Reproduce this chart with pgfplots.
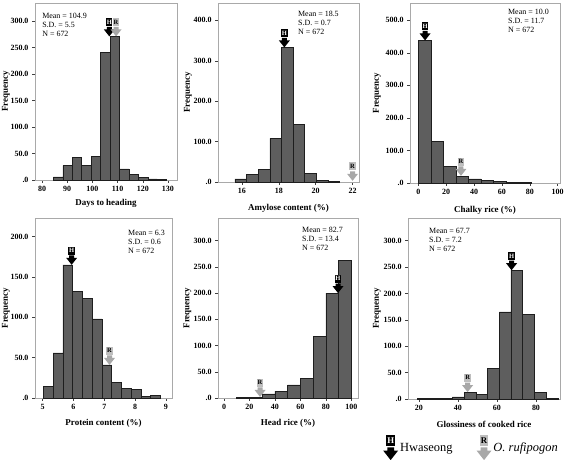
\documentclass[border=0pt]{standalone}
\usepackage{fontspec}
\setmainfont{Liberation Serif}
\usepackage{pgfplots}
\pgfplotsset{compat=1.18}
\definecolor{framegray}{HTML}{A9A9A9}
\definecolor{barfill}{HTML}{5E5E5E}
\definecolor{baredge}{HTML}{1E1E1E}
\definecolor{arrgray}{HTML}{A8A8A8}
\definecolor{boxgray}{HTML}{BEBEBE}

\pgfdeclareplotmark{harr}{%
  \pgfsetfillcolor{black}%
  \pgfpathmoveto{\pgfpoint{0bp}{0bp}}%
  \pgfpathlineto{\pgfpoint{-5.5bp}{7bp}}%
  \pgfpathlineto{\pgfpoint{-2.5bp}{7bp}}%
  \pgfpathlineto{\pgfpoint{-2.5bp}{9.5bp}}%
  \pgfpathlineto{\pgfpoint{2.5bp}{9.5bp}}%
  \pgfpathlineto{\pgfpoint{2.5bp}{7bp}}%
  \pgfpathlineto{\pgfpoint{5.5bp}{7bp}}%
  \pgfpathclose
  \pgfusepath{fill}%
  \pgfpathrectangle{\pgfpoint{-3.2bp}{10.3bp}}{\pgfpoint{6.4bp}{8bp}}%
  \pgfusepath{fill}%
  \pgftext[at=\pgfpoint{0bp}{14.3bp}]{\color{white}\fontsize{6.5}{6.5}\selectfont\bfseries H}%
}
\pgfdeclareplotmark{rarr}{%
  \pgfsetfillcolor{arrgray}%
  \pgfpathmoveto{\pgfpoint{0bp}{0bp}}%
  \pgfpathlineto{\pgfpoint{-5.5bp}{7bp}}%
  \pgfpathlineto{\pgfpoint{-2.5bp}{7bp}}%
  \pgfpathlineto{\pgfpoint{-2.5bp}{9.5bp}}%
  \pgfpathlineto{\pgfpoint{2.5bp}{9.5bp}}%
  \pgfpathlineto{\pgfpoint{2.5bp}{7bp}}%
  \pgfpathlineto{\pgfpoint{5.5bp}{7bp}}%
  \pgfpathclose
  \pgfusepath{fill}%
  \pgfsetfillcolor{boxgray}%
  \pgfpathrectangle{\pgfpoint{-3.2bp}{10.3bp}}{\pgfpoint{6.4bp}{8bp}}%
  \pgfusepath{fill}%
  \pgftext[at=\pgfpoint{0bp}{14.3bp}]{\color{black}\fontsize{6.5}{6.5}\selectfont\bfseries R}%
}

\tikzset{stat/.style={anchor=north west, align=left, inner sep=0pt, font=\fontsize{8}{9.2}\selectfont}}
\pgfplotsset{
  hist/.style={
    scale only axis, clip=false, anchor=south west,
    axis line style={framegray, line width=0.7bp},
    tick align=outside, xtick pos=bottom, ytick pos=left,
    tick style={black!75, line width=0.5bp},
    major tick length=3bp,
    tick label style={font=\fontsize{8}{8}\selectfont\bfseries},
    /pgf/number format/assume math mode=true,
    label style={font=\fontsize{9}{9}\selectfont\bfseries},
    ylabel={Frequency}, ymin=0,
    xlabel style={at={(axis description cs:0.5,0)}, anchor=center},
  },
  bars/.style={ybar interval, fill=barfill, draw=baredge, line width=0.5bp},
  hmk/.style={only marks, mark=harr},
  rmk/.style={only marks, mark=rarr},
}

\begin{document}
\begin{tikzpicture}[x=1bp,y=1bp]
\path[use as bounding box] (0,0) rectangle (567,460);

% Panel 1: Days to heading
\begin{axis}[hist, at={(35bp,280bp)}, width=142bp, height=177bp,
  xmin=77.2, xmax=133.6, ymax=334,
  xtick={80,90,...,130},
  ytick={0,50,...,300}, yticklabels={.0,50.0,100.0,150.0,200.0,250.0,300.0},
  xlabel={Days to heading},
  xlabel style={yshift=-23bp},
  ylabel style={at={(axis description cs:-0.176,0.5)}, anchor=south, inner sep=0pt}]
\addplot[bars] coordinates {(84.5,6) (88.25,27) (92,43) (95.75,27) (99.5,45) (103.25,241) (107,271) (110.75,21) (114.5,10) (118.25,5) (122,2) (125.75,1) (129.5,0)};
\addplot[hmk] coordinates {(106.7,271)};
\addplot[rmk] coordinates {(109.4,271)};
\node[stat] at (rel axis cs:0.05,0.944) {Mean = 104.9\\S.D. = 5.5\\N = 672};
\end{axis}

% Panel 2: Amylose content
\begin{axis}[hist, at={(218bp,278bp)}, width=141bp, height=179bp,
  xmin=14.7, xmax=22.35, ymax=443,
  xtick={16,18,20,22},
  ytick={0,100,...,400}, yticklabels={.0,100.0,200.0,300.0,400.0},
  xlabel={Amylose content (\%)},
  xlabel style={yshift=-26bp},
  ylabel style={at={(axis description cs:-0.184,0.5)}, anchor=south, inner sep=0pt}]
\addplot[bars] coordinates {(15.62,8) (16.25,18) (16.88,31) (17.51,108) (18.14,333) (18.77,142) (19.40,22) (20.03,4) (20.66,1) (21.29,0)};
\addplot[hmk] coordinates {(18.3,333)};
\addplot[rmk] coordinates {(22.0,3)};
\node[stat] at (rel axis cs:0.567,0.955) {Mean = 18.5\\S.D. = 0.7\\N = 672};
\end{axis}

% Panel 3: Chalky rice
\begin{axis}[hist, at={(410bp,277bp)}, width=150bp, height=180bp,
  xmin=-6, xmax=101.7, ymax=553,
  xtick={0,20,...,100},
  ytick={0,100,...,500}, yticklabels={.0,100.0,200.0,300.0,400.0,500.0},
  xlabel={Chalky rice (\%)},
  xlabel style={yshift=-27bp},
  ylabel style={at={(axis description cs:-0.193,0.5)}, anchor=south, inner sep=0pt}]
\addplot[bars] coordinates {(0,438) (9,127) (18,51) (27,20) (36,13) (45,8) (54,5) (63,1) (72,2) (81,0)};
\addplot[hmk] coordinates {(4.8,438)};
\addplot[rmk] coordinates {(30.6,22)};
\node[stat] at (rel axis cs:0.653,0.967) {Mean = 10.0\\S.D. = 11.7\\N = 672};
\end{axis}

% Panel 4: Protein content
\begin{axis}[hist, at={(35bp,62bp)}, width=137bp, height=180bp,
  xmin=4.75, xmax=9.2, ymax=223,
  xtick={5,6,7,8,9},
  ytick={0,50,...,200}, yticklabels={.0,50.0,100.0,150.0,200.0},
  xlabel={Protein content (\%)},
  xlabel style={yshift=-25bp},
  ylabel style={at={(axis description cs:-0.182,0.5)}, anchor=south, inner sep=0pt}]
\addplot[bars] coordinates {(5.02,14) (5.337,56) (5.654,165) (5.971,132) (6.288,123) (6.605,98) (6.922,41) (7.239,19) (7.556,12) (7.873,11) (8.19,2) (8.507,3) (8.824,0)};
\addplot[hmk] coordinates {(5.94,165)};
\addplot[rmk] coordinates {(7.17,41)};
\node[stat] at (rel axis cs:0.679,0.933) {Mean = 6.3\\S.D. = 0.6\\N = 672};
\end{axis}

% Panel 5: Head rice
\begin{axis}[hist, at={(218bp,62bp)}, width=140bp, height=180bp,
  xmin=-4.7, xmax=105.2, ymax=343,
  xtick={0,20,...,100},
  ytick={0,50,...,300}, yticklabels={.0,50.0,100.0,150.0,200.0,250.0,300.0},
  xlabel={Head rice (\%)},
  xlabel style={yshift=-25bp},
  ylabel style={at={(axis description cs:-0.19,0.5)}, anchor=south, inner sep=0pt}]
\addplot[bars] coordinates {(10,1) (20,1) (30,8) (40,13) (50,25) (60,37) (70,117) (80,200) (90,262) (100,0)};
\addplot[hmk] coordinates {(89.5,200)};
\addplot[rmk] coordinates {(28.3,2)};
\node[stat] at (rel axis cs:0.6,0.95) {Mean = 82.7\\S.D. = 13.4\\N = 672};
\end{axis}

% Panel 6: Glossiness of cooked rice
\begin{axis}[hist, at={(408bp,61bp)}, width=152bp, height=181bp,
  xmin=14.5, xmax=92.3, ymax=343,
  xtick={20,40,60,80},
  ytick={0,50,...,300}, yticklabels={.0,50.0,100.0,150.0,200.0,250.0,300.0},
  xlabel={Glossiness of cooked rice},
  xlabel style={yshift=-25bp},
  ylabel style={at={(axis description cs:-0.178,0.5)}, anchor=south, inner sep=0pt},
  legend columns=2,
  legend style={at={(1.0,-0.2)}, anchor=north east, draw=none, fill=none,
    font=\fontsize{12.5}{13}\selectfont, inner sep=0pt,
    /tikz/every even column/.append style={column sep=22bp}},
  legend cell align=left]
\addplot[bars, forget plot] coordinates {(19.2,1) (25.2,1) (31.2,1) (37.2,4) (43.2,13) (49.2,9) (55.2,58) (61.2,165) (67.2,244) (73.2,160) (79.2,13) (85.2,1) (91.2,0)};
\addplot[hmk, legend image code/.code={\pgftransformshift{\pgfpoint{7bp}{-12bp}}\pgftransformscale{1.35}\pgfuseplotmark{harr}}] coordinates {(67.5,244)};
\addlegendentry{Hwaseong}
\addplot[rmk, legend image code/.code={\pgftransformshift{\pgfpoint{7bp}{-12bp}}\pgftransformscale{1.35}\pgfuseplotmark{rarr}}] coordinates {(45,13)};
\addlegendentry{\textit{O. rufipogon}}
\node[stat] at (rel axis cs:0.138,0.945) {Mean = 67.7\\S.D. = 7.2\\N = 672};
\end{axis}
\end{tikzpicture}
\end{document}
